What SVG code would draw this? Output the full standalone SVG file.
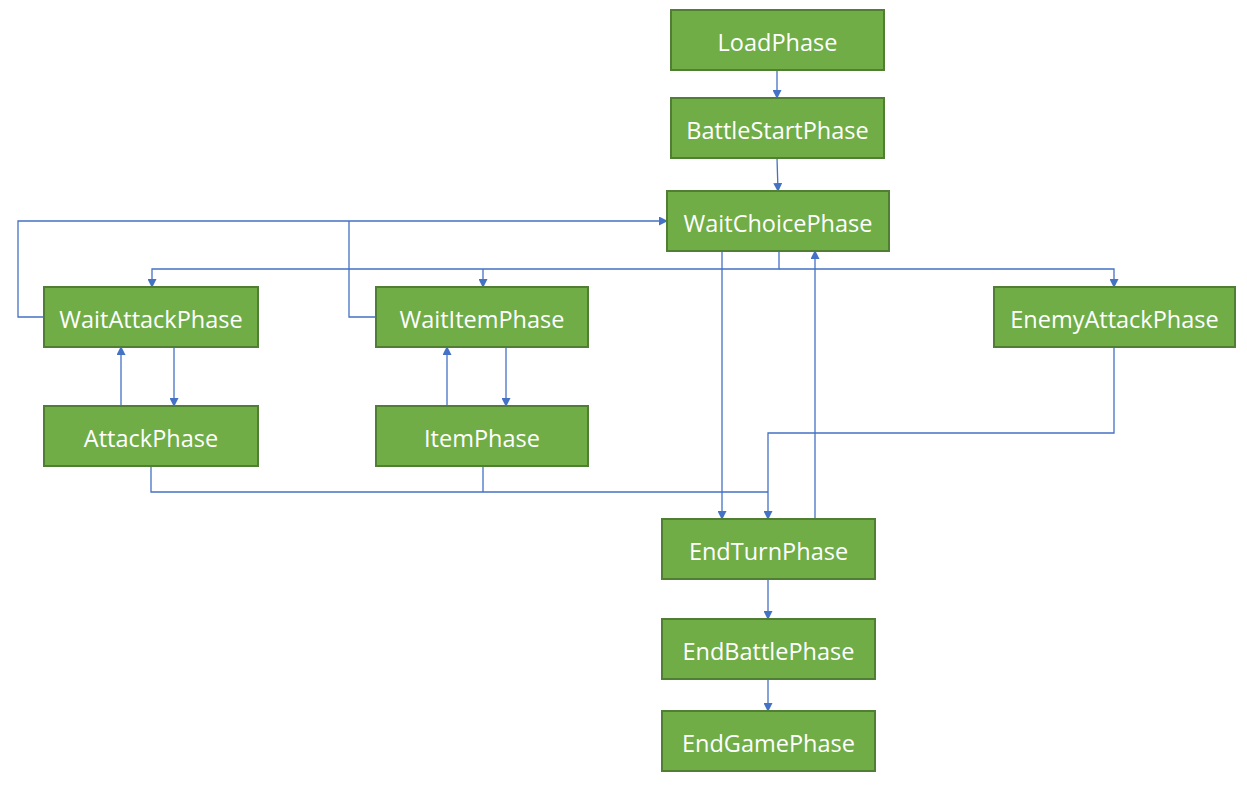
<svg xmlns="http://www.w3.org/2000/svg" width="1247" height="785" viewBox="0 0 1247 785">
<style>
.n rect{fill:#70AD47;stroke:#507E32;stroke-width:2}
.n text{fill:#fff;font-family:"Open Sans","Noto Sans","DejaVu Sans",sans-serif;font-size:23.5px;text-anchor:middle}
.c path{fill:none;stroke:#4472C4;stroke-width:1.3}
</style>
<defs>
<marker id="a" markerWidth="9" markerHeight="9" refX="8" refY="4.5" orient="auto" markerUnits="userSpaceOnUse">
<path d="M0,0 L9,4.5 L0,9 Z" fill="#4472C4"/>
</marker>
</defs>
<rect width="1247" height="785" fill="#fff"/>
<g class="c">
<path d="M777,70 V98" marker-end="url(#a)"/>
<path d="M777,158 L778,191" marker-end="url(#a)"/>
<path d="M44,317 H18 V221 H667" marker-end="url(#a)"/>
<path d="M376,317 H349 V221"/>
<path d="M779,251 V269 H152 V287" marker-end="url(#a)"/>
<path d="M483,269 V287" marker-end="url(#a)"/>
<path d="M779,269 H1114 V287" marker-end="url(#a)"/>
<path d="M722,251 V519" marker-end="url(#a)"/>
<path d="M815,519 V251" marker-end="url(#a)"/>
<path d="M121,406 V347" marker-end="url(#a)"/>
<path d="M174,347 V406" marker-end="url(#a)"/>
<path d="M447,406 V347" marker-end="url(#a)"/>
<path d="M506,347 V406" marker-end="url(#a)"/>
<path d="M151,466 V492 H768"/>
<path d="M483,466 V492"/>
<path d="M1114,347 V433 H768 V519" marker-end="url(#a)"/>
<path d="M768,579 V619" marker-end="url(#a)"/>
<path d="M768,679 V711" marker-end="url(#a)"/>
</g>
<g class="n" id="LoadPhase"><rect x="671" y="10" width="213" height="60"/><text x="777.5" y="50.5">LoadPhase</text></g>
<g class="n" id="BattleStartPhase"><rect x="671" y="98" width="213" height="60"/><text x="777.5" y="138.5">BattleStartPhase</text></g>
<g class="n" id="WaitChoicePhase"><rect x="667" y="191" width="222" height="60"/><text x="778" y="231.5">WaitChoicePhase</text></g>
<g class="n" id="WaitAttackPhase"><rect x="44" y="287" width="214" height="60"/><text x="151" y="327.5">WaitAttackPhase</text></g>
<g class="n" id="WaitItemPhase"><rect x="376" y="287" width="212" height="60"/><text x="482" y="327.5">WaitItemPhase</text></g>
<g class="n" id="EnemyAttackPhase"><rect x="994" y="287" width="241" height="60"/><text x="1114.5" y="327.5">EnemyAttackPhase</text></g>
<g class="n" id="AttackPhase"><rect x="44" y="406" width="214" height="60"/><text x="151" y="446.5">AttackPhase</text></g>
<g class="n" id="ItemPhase"><rect x="376" y="406" width="212" height="60"/><text x="482" y="446.5">ItemPhase</text></g>
<g class="n" id="EndTurnPhase"><rect x="662" y="519" width="213" height="60"/><text x="768.5" y="559.5">EndTurnPhase</text></g>
<g class="n" id="EndBattlePhase"><rect x="662" y="619" width="213" height="60"/><text x="768.5" y="659.5">EndBattlePhase</text></g>
<g class="n" id="EndGamePhase"><rect x="662" y="711" width="213" height="60"/><text x="768.5" y="751.5">EndGamePhase</text></g>
</svg>
